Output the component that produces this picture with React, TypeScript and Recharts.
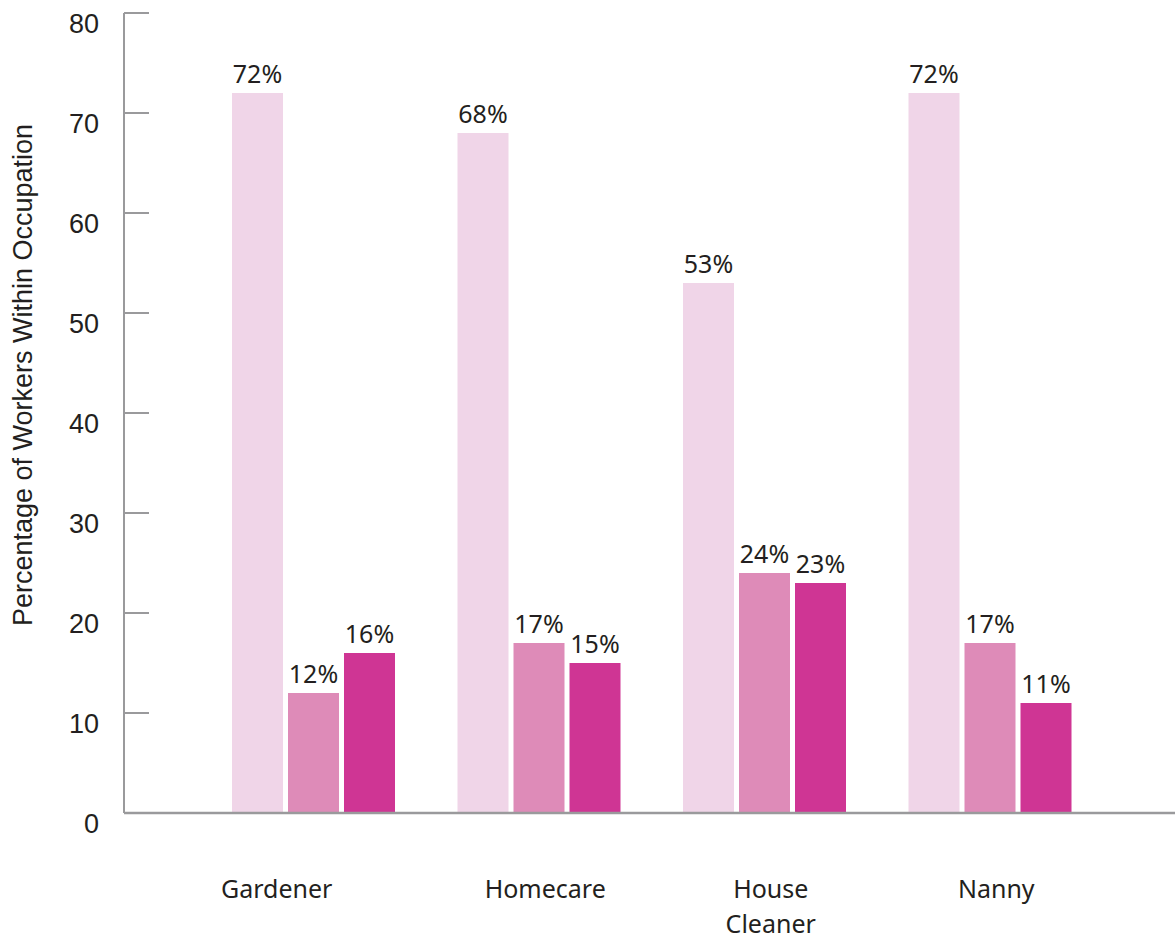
import { BarChart, Bar, XAxis, YAxis, LabelList, Label } from "recharts";

const categories = ["Gardener", "Homecare", "House Cleaner", "Nanny"];
const seriesA = [72, 68, 53, 72];
const seriesB = [12, 17, 24, 17];
const seriesC = [16, 15, 23, 11];
const yTicks = [0, 10, 20, 30, 40, 50, 60, 70, 80];

const data = categories.map((name, i) => ({
  name,
  a: seriesA[i],
  b: seriesB[i],
  c: seriesC[i],
}));

const AXIS = "#9a9a9c";
const TEXT = "#231f20";
const FONT = "'Noto Sans', sans-serif";
const SANS = "'Liberation Sans', Arial, sans-serif";

function YTick({ x, y, payload }: any) {
  return (
    <g>
      <line x1={x + 25} x2={x + 50} y1={y} y2={y} stroke={AXIS} strokeWidth={2} />
      <text x={x} y={y} dy={20} textAnchor="end" fill={TEXT} fontSize={27} fontFamily={SANS}>
        {payload.value}
      </text>
    </g>
  );
}

function XTick({ x, y, payload }: any) {
  const words = String(payload.value).split(" ");
  // first label sits left of its group in the original
  const shift = payload.value === "Gardener" ? -37 : 6;
  return (
    <text x={x + shift} y={y} textAnchor="middle" fill={TEXT} fontSize={25} fontFamily={FONT}>
      {words.map((w, i) => (
        <tspan key={w} x={x + shift} dy={i === 0 ? 85 : 35}>
          {w}
        </tspan>
      ))}
    </text>
  );
}

function YTitle({ viewBox }: any) {
  const cx = viewBox.x + 32;
  const cy = viewBox.y + viewBox.height / 2 - 38;
  return (
    <text
      x={cx}
      y={cy}
      transform={`rotate(-90, ${cx}, ${cy})`}
      textAnchor="middle"
      fill={TEXT}
      fontSize={27}
      fontFamily={SANS}
    >
      Percentage of Workers Within Occupation
    </text>
  );
}

const labelStyle = { fontSize: 25, fill: TEXT, fontFamily: FONT };

export default function App() {
  return (
    <div style={{ position: "absolute", top: 0, left: 0, background: "#fff" }}>
      <BarChart
        width={1175}
        height={939}
        data={data}
        margin={{ top: 13, right: 0, left: 0, bottom: 0 }}
        barSize={51}
        barGap={5}
      >
        <XAxis
          dataKey="name"
          height={126}
          padding={{ left: 77, right: 72 }}
          axisLine={{ stroke: AXIS, strokeWidth: 2.5 }}
          tickLine={false}
          tickSize={0}
          tickMargin={0}
          interval={0}
          tick={<XTick />}
        />
        <YAxis
          width={124}
          domain={[0, 80]}
          ticks={yTicks}
          axisLine={{ stroke: AXIS, strokeWidth: 2 }}
          tickLine={false}
          tickSize={0}
          tickMargin={25}
          tick={<YTick />}
        >
          <Label content={<YTitle />} />
        </YAxis>
        <Bar dataKey="a" fill="#f0d5e8" isAnimationActive={false}>
          <LabelList dataKey="a" position="top" offset={10} formatter={(v: any) => `${v}%`} style={labelStyle} />
        </Bar>
        <Bar dataKey="b" fill="#de8bb8" isAnimationActive={false}>
          <LabelList dataKey="b" position="top" offset={10} formatter={(v: any) => `${v}%`} style={labelStyle} />
        </Bar>
        <Bar dataKey="c" fill="#cf3594" isAnimationActive={false}>
          <LabelList dataKey="c" position="top" offset={10} formatter={(v: any) => `${v}%`} style={labelStyle} />
        </Bar>
      </BarChart>
    </div>
  );
}
